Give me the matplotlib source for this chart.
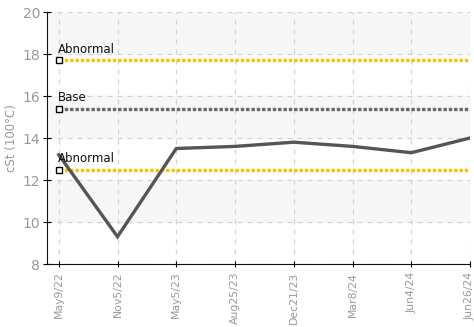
import matplotlib.pyplot as plt

dates = ["May9/22", "Nov5/22", "May5/23", "Aug25/23", "Dec21/23", "Mar8/24", "Jun4/24", "Jun26/24"]
cst = [13.2, 9.3, 13.5, 13.6, 13.8, 13.6, 13.3, 14.0]

abnormal_high = 17.7
base_value = 15.4
abnormal_low = 12.5

yticks = [8, 10, 12, 14, 16, 18, 20]
bands = [(10, 12), (14, 16), (18, 20)]

fnt = ['Liberation Sans Narrow', 'DejaVu Sans']
plt.rcParams['font.family'] = fnt

fig = plt.figure(figsize=(4.74, 3.27), dpi=100)
ax = fig.add_axes([47/474, 63/327, 423/474, 252/327])

xs = list(range(len(dates)))

for lo, hi in bands:
    ax.axhspan(lo, hi, color='#f7f7f7', zorder=0)

ax.grid(True, color='#d4d4d4', linestyle=(0, (4, 4)), linewidth=0.9, zorder=1)

# limit lines
for val, col, name in [(abnormal_high, '#f5c300', 'Abnormal'),
                       (base_value, '#666666', 'Base'),
                       (abnormal_low, '#f5c300', 'Abnormal')]:
    ax.plot([xs[0], xs[-1]], [val, val], color=col, linestyle=(0, (1, 0.6)), linewidth=2.4, zorder=2)
    ax.plot([xs[0]], [val], marker='s', markersize=4.5, markerfacecolor='white',
            markeredgecolor='black', markeredgewidth=1, zorder=5)
    ax.text(xs[0] - 0.02, val + 0.2, name, fontsize=8.5, color='#111111', ha='left', va='bottom', zorder=6)

ax.plot(xs, cst, color='#555555', linewidth=2.4, zorder=4, solid_joinstyle='miter')

ax.set_xlim(-0.2, len(dates) - 1)
ax.set_ylim(8, 20)
ax.set_yticks(yticks)
ax.set_xticks(xs)
ax.set_xticklabels(dates, rotation=90)

for s in ['top', 'right']:
    ax.spines[s].set_visible(False)
ax.spines['left'].set_color('#111111')
ax.spines['bottom'].set_color('#111111')
ax.tick_params(axis='y', direction='inout', length=6, labelsize=10, labelcolor='#999999', pad=2)
ax.tick_params(axis='x', direction='inout', length=5, labelsize=7.8, labelcolor='#999999', pad=3)
ax.set_ylabel('cSt (100°C)', fontsize=8.5, color='#999999', labelpad=3)

fig.savefig('out.png', dpi=100)
